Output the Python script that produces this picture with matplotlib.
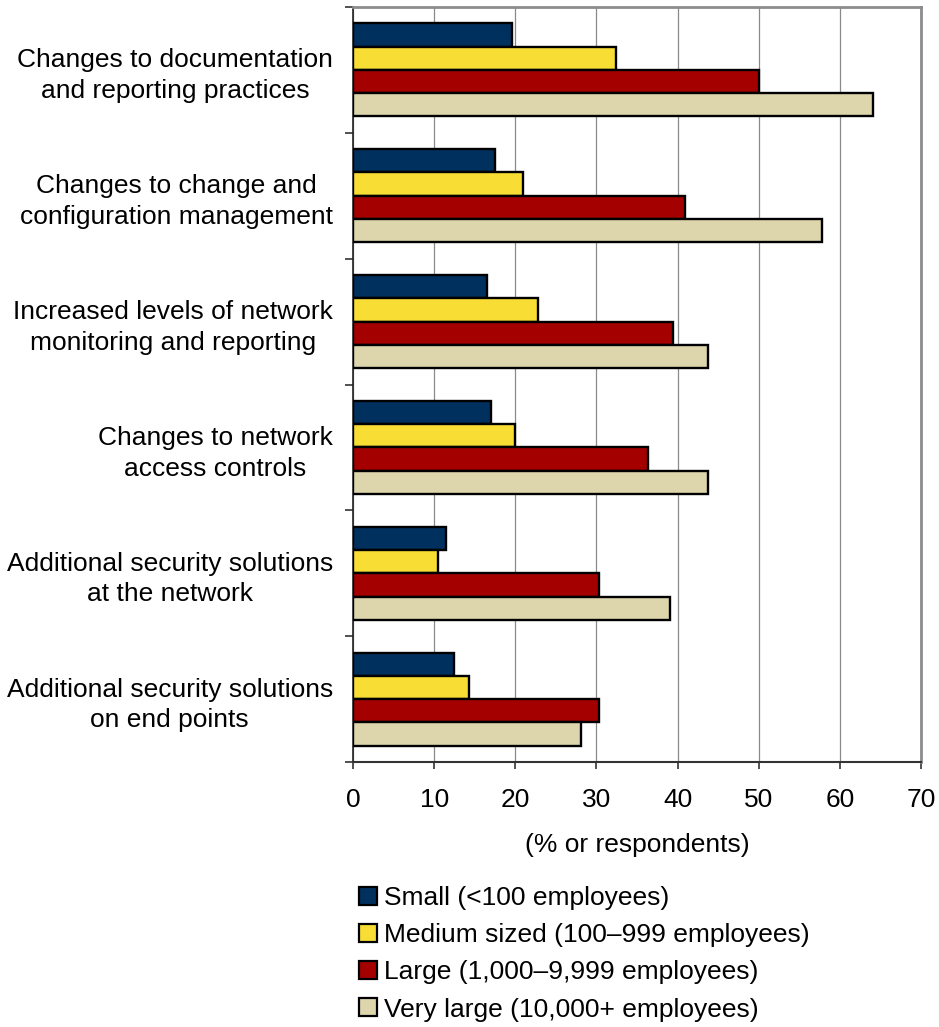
import matplotlib
matplotlib.use("Agg")
import matplotlib.pyplot as plt
import numpy as np
from matplotlib.patches import Patch

categories = [
    "Changes to documentation\nand reporting practices",
    "Changes to change and\nconfiguration management",
    "Increased levels of network\nmonitoring and reporting",
    "Changes to network\naccess controls",
    "Additional security solutions\nat the network",
    "Additional security solutions\non end points",
]
small = [19.6, 17.5, 16.5, 17.0, 11.4, 12.4]
medium = [32.4, 21.0, 22.8, 20.0, 10.5, 14.3]
large = [50.0, 40.9, 39.4, 36.4, 30.3, 30.3]
very_large = [64.1, 57.8, 43.8, 43.8, 39.1, 28.1]
series_labels = [
    "Small (<100 employees)",
    "Medium sized (100\u2013999 employees)",
    "Large (1,000\u20139,999 employees)",
    "Very large (10,000+ employees)",
]
x_ticks = [0, 10, 20, 30, 40, 50, 60, 70]
x_label = "(% or respondents)"

colors = ["#00305E", "#F8DE34", "#A50000", "#DDD5AC"]

plt.rcParams["font.family"] = ["Liberation Sans", "DejaVu Sans"]

fig = plt.figure(figsize=(9.39, 10.27), dpi=100)
W, H = 939, 1027
ax = fig.add_axes([353 / W, 1 - 762 / H, (921 - 353) / W, (762 - 7) / H])

series = [small, medium, large, very_large]
n = len(categories)
y = np.arange(n)
h = 0.185
offsets = (np.arange(4) - 1.5) * h
for vals, off, col, lab in zip(series, offsets, colors, series_labels):
    ax.barh(y + off, vals, height=h, color=col, edgecolor="black",
            linewidth=1.7, label=lab, zorder=3)

ax.set_xlim(0, 70)
ax.set_ylim(n - 0.5, -0.5)
ax.set_xticks(x_ticks)
ax.set_xticklabels([str(t) for t in x_ticks], fontsize=19)
ax.tick_params(axis="x", direction="out", length=5, width=1.2, pad=14,
               color="#333333")

# category boundaries carry the tick marks, labels sit at group centres
ax.set_yticks(np.arange(n + 1) - 0.5)
ax.set_yticklabels([])
ax.set_yticks(y, minor=True)
ax.set_yticklabels(categories, minor=True, fontsize=19, linespacing=1.35)
ax.tick_params(axis="y", which="major", direction="out", length=6,
               width=1.2, color="#333333")
ax.tick_params(axis="y", which="minor", length=0, pad=14.5)
for lbl in ax.get_yticklabels(minor=True):
    lbl.set_multialignment("center")

ax.grid(axis="x", color="#8a8a8a", linewidth=0.9, zorder=0)
ax.set_axisbelow(True)

for side in ("top", "right"):
    ax.spines[side].set_color("#8c8c8c")
    ax.spines[side].set_linewidth(2)
ax.spines["left"].set_color("#222222")
ax.spines["left"].set_linewidth(1.2)
ax.spines["bottom"].set_color("#333333")
ax.spines["bottom"].set_linewidth(1.5)

ax.set_xlabel(x_label, fontsize=19, labelpad=15)

handles = [Patch(facecolor=c, edgecolor="black", linewidth=1.6) for c in colors]
fig.legend(handles, series_labels, loc="upper left",
           bbox_to_anchor=(359 / W, 1 - 886 / H), frameon=False, fontsize=19,
           handlelength=0.68, handleheight=0.68, handletextpad=0.25,
           labelspacing=0.5, borderpad=0, borderaxespad=0)

fig.savefig("out.png", dpi=100)
